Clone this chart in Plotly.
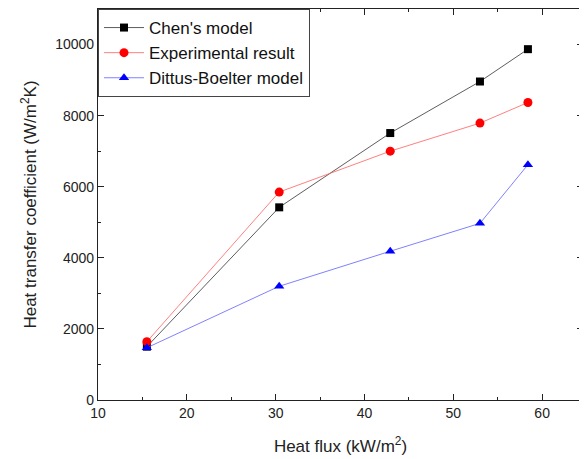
import plotly.graph_objects as go

heat_flux = [15.5, 30.4, 42.9, 53.0, 58.4]
chen = [1500, 5420, 7510, 8960, 9870]
experimental = [1640, 5850, 7000, 7790, 8370]
dittus = [1470, 3200, 4185, 4970, 6620]

fig = go.Figure()
fig.add_trace(go.Scatter(x=heat_flux, y=chen, name="Chen's model", mode="lines+markers",
                         line=dict(color="#333", width=0.8),
                         marker=dict(symbol="square", size=8, color="black")))
fig.add_trace(go.Scatter(x=heat_flux, y=experimental, name="Experimental result", mode="lines+markers",
                         line=dict(color="#ff6060", width=0.8),
                         marker=dict(symbol="circle", size=9, color="red")))
fig.add_trace(go.Scatter(x=heat_flux, y=dittus, name="Dittus-Boelter model", mode="lines+markers",
                         line=dict(color="#6060ff", width=0.8),
                         marker=dict(symbol="triangle-up", size=9, color="blue")))

FONT = "Liberation Sans, Arial"
axis_common = dict(showgrid=False, zeroline=False, showline=True, linecolor="#222", linewidth=1.2,
                   mirror="ticks", ticks="inside", ticklen=6, tickcolor="#222", automargin=False,
                   tickformat="d",
                   tickfont=dict(family=FONT, size=14, color="#222"))

fig.update_xaxes(range=[10, 64.6], dtick=10, tick0=10,
                 minor=dict(ticks="inside", ticklen=3, dtick=5, tickcolor="#222"),
                 title=dict(text="Heat flux (kW/m<sup>2</sup>)", font=dict(family=FONT, size=17, color="#222"), standoff=20),
                 **axis_common)
fig.update_yaxes(range=[0, 11000], dtick=2000,
                 minor=dict(ticks="inside", ticklen=3, dtick=1000, tickcolor="#222"),
                 title=dict(text="Heat transfer coefficient (W/m<sup>2</sup>K)", font=dict(family=FONT, size=17, color="#222"), standoff=14),
                 **axis_common)

fig.update_layout(
    width=587, height=459,
    margin=dict(l=90, r=12, t=1, b=67),
    plot_bgcolor="white", paper_bgcolor="white",
    font=dict(family=FONT, color="#222"),
    legend=dict(x=0, y=1, xanchor="left", yanchor="top", bordercolor="#444", borderwidth=1,
                bgcolor="white", font=dict(size=17, family=FONT, color="#111"),
                tracegroupgap=0, itemwidth=40),
)

fig.write_html("out.html")
